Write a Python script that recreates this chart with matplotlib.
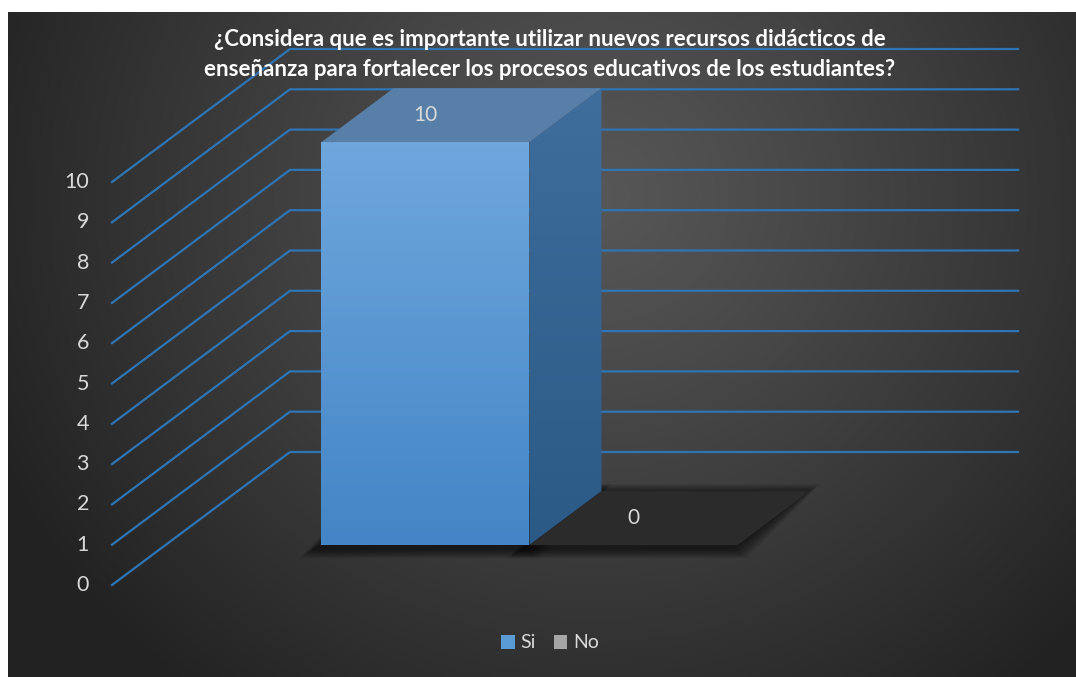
import numpy as np
import matplotlib
matplotlib.use('Agg')
import matplotlib.pyplot as plt
from matplotlib.patches import Polygon, Rectangle
from matplotlib.colors import LinearSegmentedColormap, to_rgb

# ---------------- data ----------------
series = ['Si', 'No']
values = [10, 0]
yticks = list(range(0, 11))
title_lines = ['¿Considera que es importante utilizar nuevos recursos didácticos de',
               'enseñanza para fortalecer los procesos educativos de los estudiantes?']
series_colors = ['#5b9bd5', '#a5a5a5']

# ---------------- figure ----------------
W, H = 1076, 677
fig = plt.figure(figsize=(W / 100, H / 100), dpi=100)
fig.patch.set_facecolor('white')
plt.rcParams['font.family'] = ['Lato', 'DejaVu Sans']

# pixel geometry of the oblique projection
PX0, PY0 = 112, 585          # front-left, value 0
CAT_W = 728                  # category (floor) width in px
UNIT = 40.3                  # px per value unit
DEPTH_PX = (178, 133)        # full depth shift in px

ax = fig.add_axes([0, 0, 1, 1])
XL = (-PX0 / CAT_W, (W - PX0) / CAT_W)
YL = ((PY0 - H) / UNIT, PY0 / UNIT)
ax.set_xlim(*XL)
ax.set_ylim(*YL)
ax.axis('off')

DX = DEPTH_PX[0] / CAT_W
DY = DEPTH_PX[1] / UNIT
PXX = 1 / CAT_W   # one pixel in x data units
PXY = 1 / UNIT    # one pixel in y data units


def P(x, v, d):
    return (x + d * DX, v + d * DY)


# ---------------- background radial gradient ----------------
x0b, x1b = (8 - PX0) / CAT_W, (W - PX0) / CAT_W
y0b, y1b = (PY0 - H) / UNIT, (PY0 - 12) / UNIT
ny, nx = 300, 480
yy, xx = np.mgrid[0:ny, 0:nx]
cx, cy = nx * 0.55, ny * 0.72
r = np.sqrt(((xx - cx) / (nx * 0.62)) ** 2 + ((yy - cy) / (ny * 0.95)) ** 2)
r = np.clip(r, 0, 1)
c_in = np.array(to_rgb('#575757'))
c_out = np.array(to_rgb('#222222'))
img = c_in[None, None, :] * (1 - r[..., None] ** 1.1) + c_out[None, None, :] * (r[..., None] ** 1.1)
ax.imshow(img, extent=(x0b, x1b, y0b, y1b), origin='lower', aspect='auto', zorder=0,
          interpolation='bilinear')

# ---------------- gridlines (side wall + back wall) ----------------
grid_c = '#2e75b6'
for v in yticks:
    a = P(0, v, 0)
    b = P(0, v, 1)
    c = P(1, v, 1)
    ax.plot([a[0], b[0], c[0]], [a[1], b[1], c[1]], color=grid_c, lw=1.6, zorder=1,
            solid_joinstyle='miter')
    ax.text(a[0] - 23 * PXX, a[1], str(v), ha='right', va='center', color='#d9d9d9',
            fontsize=15.5, zorder=5)

# ---------------- bars ----------------
gap = 1.5
bw = 1 / (len(series) + gap)
xs = gap / 2 * bw
d0, d1 = 0.30, 0.705

front_cmap = LinearSegmentedColormap.from_list('fr', ['#4385c6', '#6fa7dd'])
side_cmap = LinearSegmentedColormap.from_list('sd', ['#2c5a86', '#3f6d9c'])

for i, (name, val) in enumerate(zip(series, values)):
    xa = xs + i * bw
    xb = xa + bw
    # soft shadow: footprint offset down-left, feathered in several layers
    off_x, off_y = -6 * PXX, -3 * PXY
    for k in range(10, 0, -1):
        ex = k * 1.6 * PXX
        ey = k * 1.0 * PXY
        sh = [P(xa + off_x - ex, off_y - ey, d0), P(xb + off_x + ex, off_y - ey, d0),
              P(xb + off_x + ex, off_y + ey, d1), P(xa + off_x - ex, off_y + ey, d1)]
        ax.add_patch(Polygon(sh, closed=True, facecolor='black', edgecolor='none',
                             alpha=0.07, zorder=2))
    if val > 0:
        # front face with vertical gradient
        fx0, fy0 = P(xa, 0, d0)
        fx1, fy1 = P(xb, val, d0)
        grad = np.linspace(0, 1, 100)[:, None]
        ax.imshow(grad, cmap=front_cmap, extent=(fx0, fx1, fy0, fy1), origin='lower',
                  aspect='auto', zorder=3)
        # side face
        side = Polygon([P(xb, 0, d0), P(xb, val, d0), P(xb, val, d1), P(xb, 0, d1)],
                       closed=True, facecolor='none', edgecolor='none', zorder=3)
        ax.add_patch(side)
        sx0, sy0 = P(xb, 0, d0)
        sx1, sy1 = P(xb, val, d1)
        im = ax.imshow(grad, cmap=side_cmap, extent=(sx0, sx1, sy0, sy1), origin='lower',
                       aspect='auto', zorder=3)
        im.set_clip_path(side)
        top_c = '#587fa8'
    else:
        top_c = '#2b2b2b'
    top = Polygon([P(xa, val, d0), P(xb, val, d0), P(xb, val, d1), P(xa, val, d1)],
                  closed=True, facecolor=top_c, edgecolor='none', zorder=4)
    ax.add_patch(top)
    lx, _ = P((xa + xb) / 2, val, d0)
    ly = val + (d0 + d1) / 2 * DY
    ax.text(lx, ly, str(val), ha='center', va='center', color='#d9d9d9', fontsize=15, zorder=6)

# restore limits (imshow may change them)
ax.set_xlim(*XL)
ax.set_ylim(*YL)

# ---------------- title ----------------
fig.text(550 / W, 1 - 40 / H, title_lines[0], ha='center', va='center', color='white',
         fontsize=16, fontweight='bold')
fig.text(550 / W, 1 - 70 / H, title_lines[1], ha='center', va='center', color='white',
         fontsize=16, fontweight='bold')

# ---------------- legend ----------------
handles = [Rectangle((0, 0), 1, 1, facecolor=c, edgecolor='none') for c in series_colors]
leg = fig.legend(handles, series, loc='center', bbox_to_anchor=(550 / W, 1 - 643 / H),
                 ncol=2, frameon=False, fontsize=14, handlelength=0.7, handleheight=0.7,
                 handletextpad=0.3, columnspacing=0.9)
for t in leg.get_texts():
    t.set_color('#d9d9d9')

fig.savefig('out.png', dpi=100, facecolor='white')
